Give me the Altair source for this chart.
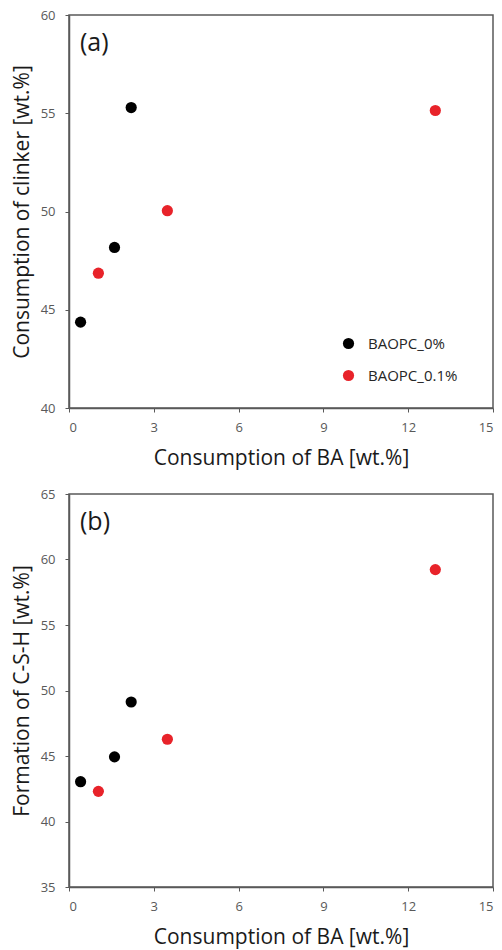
import altair as alt
import pandas as pd

series = ["BAOPC_0%", "BAOPC_0%", "BAOPC_0%", "BAOPC_0.1%", "BAOPC_0.1%", "BAOPC_0.1%"]
ba_consumption = [0.41, 1.61, 2.20, 1.04, 3.48, 12.96]
clinker_consumption = [44.37, 48.17, 55.29, 46.86, 50.04, 55.14]
csh_formation = [43.04, 44.93, 49.12, 42.30, 46.28, 59.23]
x_ticks = [0, 3, 6, 9, 12, 15]
ya_ticks = [40, 45, 50, 55, 60]
yb_ticks = [35, 40, 45, 50, 55, 60, 65]

df = pd.DataFrame({
    "series": series,
    "ba": ba_consumption,
    "clinker": clinker_consumption,
    "csh": csh_formation,
})

FONT = "Open Sans"
colors = alt.Scale(domain=["BAOPC_0%", "BAOPC_0.1%"], range=["#000000", "#e8232a"])

W, H = 424, 393

def panel(field, title, dom, ticks, label, show_legend):
    base = alt.Chart(df)
    legend = None
    if show_legend:
        legend = alt.Legend(
            title=None, orient="none", legendX=272, legendY=321,
            labelFontSize=15, labelFont=FONT, labelColor="#262626",
            symbolSize=125, symbolStrokeWidth=0, labelOffset=12, rowPadding=16,
            symbolType="circle",
        )
    pts = base.mark_point(filled=True, size=125, opacity=1).encode(
        x=alt.X("ba:Q", scale=alt.Scale(domain=[0, 15], nice=False),
                axis=alt.Axis(values=x_ticks, title="Consumption of BA [wt.%]")),
        y=alt.Y(f"{field}:Q", scale=alt.Scale(domain=dom, nice=False, zero=False),
                axis=alt.Axis(values=ticks, title=title)),
        color=alt.Color("series:N", scale=colors, legend=legend,
                        sort=["BAOPC_0%", "BAOPC_0.1%"]),
    )
    lab = alt.Chart(pd.DataFrame({"t": [label]})).mark_text(
        fontSize=25, font=FONT, align="left", baseline="middle", color="#1a1a1a"
    ).encode(text="t:N", x=alt.value(11), y=alt.value(28))
    return (pts + lab).properties(width=W, height=H)

top = panel("clinker", "Consumption of clinker [wt.%]", [40, 60], ya_ticks, "(a)", True)
bot = panel("csh", "Formation of C-S-H [wt.%]", [35, 65], yb_ticks, "(b)", False)

chart = alt.vconcat(top, bot, spacing=18).resolve_scale(color="independent").configure_view(
    stroke="#595959", strokeWidth=1.5
).configure_axis(
    grid=False, labelFont=FONT, labelFontSize=13, labelColor="#595959",
    titleFont=FONT, titleFontSize=21, titleFontWeight="normal", titleColor="#1a1a1a",
    domainColor="#595959", domainWidth=1.5, tickColor="#595959", tickSize=4,
    labelPadding=6,
).configure_axisY(titlePadding=8, labelPadding=10).configure_axisX(titlePadding=13, labelPadding=9).properties(
    padding={"left": 10, "top": 8, "right": 5, "bottom": 5}
)

chart.save("out.html", embed_options={"renderer": "svg", "actions": False})
